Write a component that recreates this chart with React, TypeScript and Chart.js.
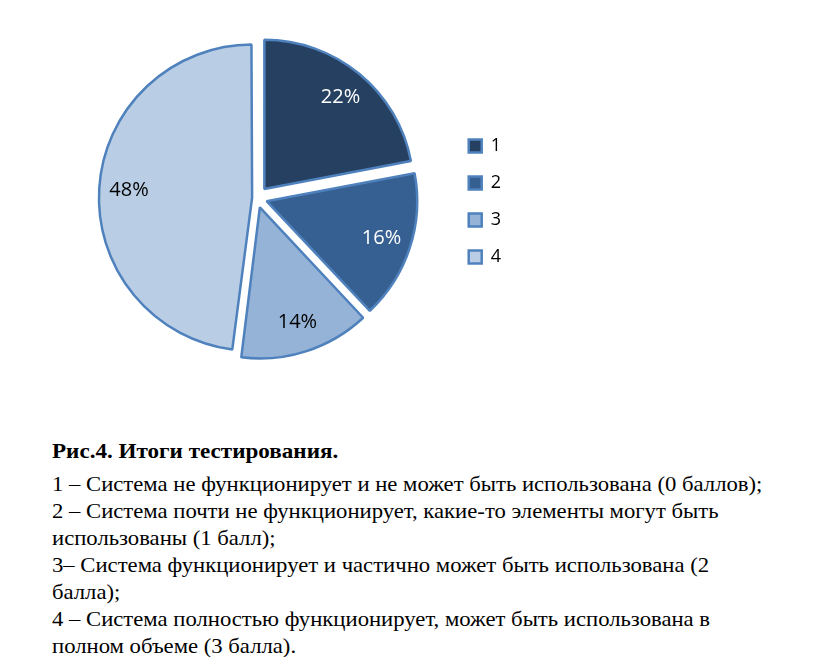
import React, { useEffect, useRef } from "react";
import { Chart, registerables } from "chart.js";

Chart.register(...registerables);

const categories = ["1", "2", "3", "4"];
const values = [22, 16, 14, 48];
const sliceColors = ["#254061", "#376092", "#95B3D7", "#B9CDE5"];
const labelColors = ["#ffffff", "#ffffff", "#000000", "#000000"];
const sliceOffsets = [47, 41, 39, 19];
const captionTitle = "Рис.4. Итоги тестирования.";
const captionLines = [
  "1 – Система не функционирует и не может быть использована (0 баллов);",
  "2 – Система почти не функционирует, какие-то элементы могут быть",
  "использованы (1 балл);",
  "3– Система функционирует и частично может быть использована (2",
  "балла);",
  "4 – Система полностью функционирует, может быть использована в",
  "полном объеме (3 балла).",
];

const pctLabels = {
  id: "pctLabels",
  afterDatasetsDraw(chart: any) {
    const ctx = chart.ctx;
    const meta = chart.getDatasetMeta(0);
    const total = values.reduce((a, b) => a + b, 0);
    ctx.save();
    ctx.font = '20px "Open Sans"';
    ctx.textAlign = "center";
    ctx.textBaseline = "middle";
    meta.data.forEach((arc: any, i: number) => {
      const p = arc.getProps(["x", "y", "startAngle", "endAngle", "outerRadius", "circumference"], true);
      const mid = (p.startAngle + p.endAngle) / 2;
      const o = sliceOffsets[i] / 4;
      const fix = 1 - Math.sin(Math.min(Math.PI, p.circumference || 0));
      const shift = o + o * fix;
      const d = shift + p.outerRadius * 0.8;
      ctx.fillStyle = labelColors[i];
      ctx.fillText(
        Math.round((values[i] / total) * 100) + "%",
        p.x + Math.cos(mid) * d,
        p.y + Math.sin(mid) * d
      );
    });
    ctx.restore();
  },
};

export default function App() {
  const ref = useRef<HTMLCanvasElement>(null);
  useEffect(() => {
    if (!ref.current) return;
    const chart = new Chart(ref.current, {
      type: "pie",
      data: {
        labels: categories,
        datasets: [
          {
            data: values,
            backgroundColor: sliceColors,
            borderColor: "#4F81BD",
            borderWidth: 2.5,
            offset: sliceOffsets,
          },
        ],
      },
      options: {
        animation: false,
        responsive: false,
        radius: 149,
        layout: { padding: { left: 56, right: 57, top: 3, bottom: 43 } },
        plugins: {
          tooltip: { enabled: false },
          legend: {
            position: "right",
            title: { display: true, text: " ", color: "rgba(0,0,0,0)", font: { size: 6 }, padding: 0 },
            labels: {
              boxWidth: 13,
              boxHeight: 13,
              padding: 19,
              color: "#000",
              font: { size: 18, family: '"Open Sans"' },
            },
          },
        },
      },
      plugins: [pctLabels],
    });
    return () => chart.destroy();
  }, []);

  const serif = '"Liberation Serif", "Times New Roman", serif';
  return (
    <div style={{ position: "relative", width: 803, height: 649 }}>
      <canvas ref={ref} width={560} height={420} style={{ position: "absolute", left: 0, top: 0 }} />
      <div
        style={{
          position: "absolute",
          left: 44,
          top: 429,
          fontFamily: serif,
          fontWeight: "bold",
          fontSize: 22,
          lineHeight: "27px",
          whiteSpace: "nowrap",
          color: "#000",
          transform: "scaleX(1.05)",
          transformOrigin: "left top",
        }}
      >
        {captionTitle}
      </div>
      {captionLines.map((t, i) => (
        <div
          key={i}
          style={{
            position: "absolute",
            left: 44,
            top: 463 + i * 27,
            fontFamily: serif,
            fontSize: 21,
            lineHeight: "27px",
            whiteSpace: "nowrap",
            color: "#000",
            transform: "scaleX(1.08)",
            transformOrigin: "left top",
          }}
        >
          {t}
        </div>
      ))}
    </div>
  );
}
